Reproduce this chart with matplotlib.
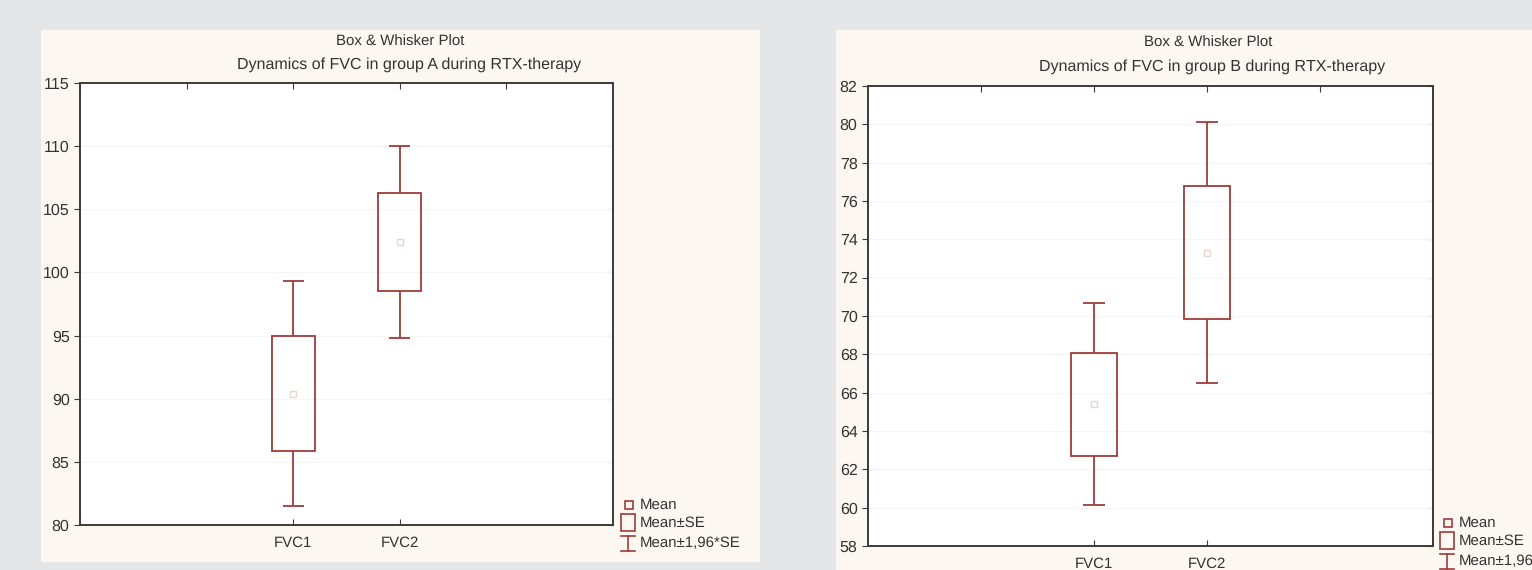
import numpy as np
import matplotlib.pyplot as plt
from matplotlib.patches import Rectangle

plt.rcParams['font.family'] = ['Liberation Sans', 'DejaVu Sans']
plt.rcParams['text.hinting'] = 'no_hinting'
plt.rcParams['text.hinting_factor'] = 1

# Mittelwerte und Standardfehler FVC (Gruppe A / Gruppe B)
categories = ['FVC1', 'FVC2']
mean_a = [90.4, 102.4]
se_a = [4.55, 3.87]
mean_b = [65.4, 73.3]
se_b = [2.68, 3.47]

yticks_a = [80, 85, 90, 95, 100, 105, 110, 115]
yticks_b = [58, 60, 62, 64, 66, 68, 70, 72, 74, 76, 78, 80, 82]

BOX = '#9e3b3d'
TEXT = '#333333'
AXIS = '#3a3a3a'
W, H = 1532, 570


def box_whisker(ax, means, ses, yticks):
    pos = np.arange(2, 2 + len(means))
    means = np.array(means)
    ses = np.array(ses)
    lo, hi = means - ses, means + ses
    wlo, whi = means - 1.96 * ses, means + 1.96 * ses

    # Box = Mean±SE, Whisker = Mean±1,96*SE
    ax.bar(pos, hi - lo, bottom=lo, width=0.4, fill=False,
           edgecolor=BOX, linewidth=1.3, zorder=3)
    ax.vlines(pos, whi, hi, color=BOX, linewidth=1.3, zorder=3)
    ax.vlines(pos, wlo, lo, color=BOX, linewidth=1.3, zorder=3)
    ax.hlines(whi, pos - 0.1, pos + 0.1, color=BOX, linewidth=1.3, zorder=3)
    ax.hlines(wlo, pos - 0.1, pos + 0.1, color=BOX, linewidth=1.3, zorder=3)
    ax.plot(pos, means, 's', ms=5, mfc='none', mec='#e6d6d6', mew=1, zorder=4)

    ax.set_xlim(0, 5)
    ax.set_ylim(yticks[0], yticks[-1])
    ax.set_xticks(pos)
    ax.set_xticklabels(categories)
    ax.set_yticks(yticks)
    ax.set_facecolor('white')
    for y in yticks[1:-1]:
        ax.axhline(y, color='#f6f5f3', linewidth=0.8, zorder=1)
    for s in ax.spines.values():
        s.set_color(AXIS)
        s.set_linewidth(1.4)
    ax.tick_params(axis='y', direction='out', length=4, labelsize=11.5,
                   labelcolor=TEXT, color=AXIS)
    ax.tick_params(axis='x', direction='in', length=4, labelsize=11,
                   labelcolor=TEXT, color=AXIS, pad=8)
    # Ticks oben und rechts nach innen
    top = ax.secondary_xaxis('top')
    top.set_xticks([1, 2, 3, 4])
    top.tick_params(direction='in', length=4, labeltop=False, color=AXIS)
    top.spines['top'].set_visible(False)
    right = ax.secondary_yaxis('right')
    right.set_yticks(yticks)
    right.tick_params(direction='in', length=4, labelright=False, color=AXIS)
    right.spines['right'].set_visible(False)


def legend(bg, x, y):
    # Quadrat fuer Mean
    bg.add_patch(Rectangle((x + 4, y - 4), 8, 8, fill=False, ec=BOX, lw=1.2))
    bg.text(x + 19, y, 'Mean', fontsize=11, color=TEXT, va='center')
    # Rechteck fuer Mean±SE
    bg.add_patch(Rectangle((x, y + 9), 14, 17, fill=False, ec=BOX, lw=1.2))
    bg.text(x + 19, y + 18, 'Mean±SE', fontsize=11, color=TEXT, va='center')
    # I-Form fuer Mean±1,96*SE
    bg.plot([x, x + 14], [y + 31, y + 31], color=BOX, lw=1.2)
    bg.plot([x, x + 14], [y + 46, y + 46], color=BOX, lw=1.2)
    bg.plot([x + 7, x + 7], [y + 31, y + 46], color=BOX, lw=1.2)
    bg.text(x + 19, y + 38, 'Mean±1,96*SE', fontsize=11, color=TEXT, va='center')


def main():
    fig = plt.figure(figsize=(W / 100, H / 100), dpi=100)
    fig.patch.set_facecolor('#e5e6e8')

    # Hintergrund-Achse in Pixelkoordinaten
    bg = fig.add_axes([0, 0, 1, 1], zorder=-1)
    bg.set_xlim(0, W)
    bg.set_ylim(H, 0)
    bg.axis('off')
    bg.add_patch(Rectangle((41, 30), 719, 532, fc='#fcf8f1', ec='none'))
    bg.add_patch(Rectangle((836, 30), 720, 560, fc='#fcf8f1', ec='none'))

    bg.text(400, 42, 'Box & Whisker Plot', fontsize=11, color=TEXT, ha='center', va='center')
    bg.text(409, 65, 'Dynamics of FVC in group A during RTX-therapy', fontsize=11.4,
            color=TEXT, ha='center', va='center')
    bg.text(1208, 43, 'Box & Whisker Plot', fontsize=11, color=TEXT, ha='center', va='center')
    bg.text(1212, 67, 'Dynamics of FVC in group B during RTX-therapy', fontsize=11.4,
            color=TEXT, ha='center', va='center')

    ax_a = fig.add_axes([80 / W, (H - 525) / H, 533 / W, 442 / H])
    box_whisker(ax_a, mean_a, se_a, yticks_a)
    ax_b = fig.add_axes([868 / W, (H - 546) / H, 565 / W, 460 / H])
    box_whisker(ax_b, mean_b, se_b, yticks_b)

    legend(bg, 621, 505)
    legend(bg, 1440, 523)

    plt.savefig('out.png', dpi=100, facecolor=fig.get_facecolor())


if __name__ == '__main__':
    main()
